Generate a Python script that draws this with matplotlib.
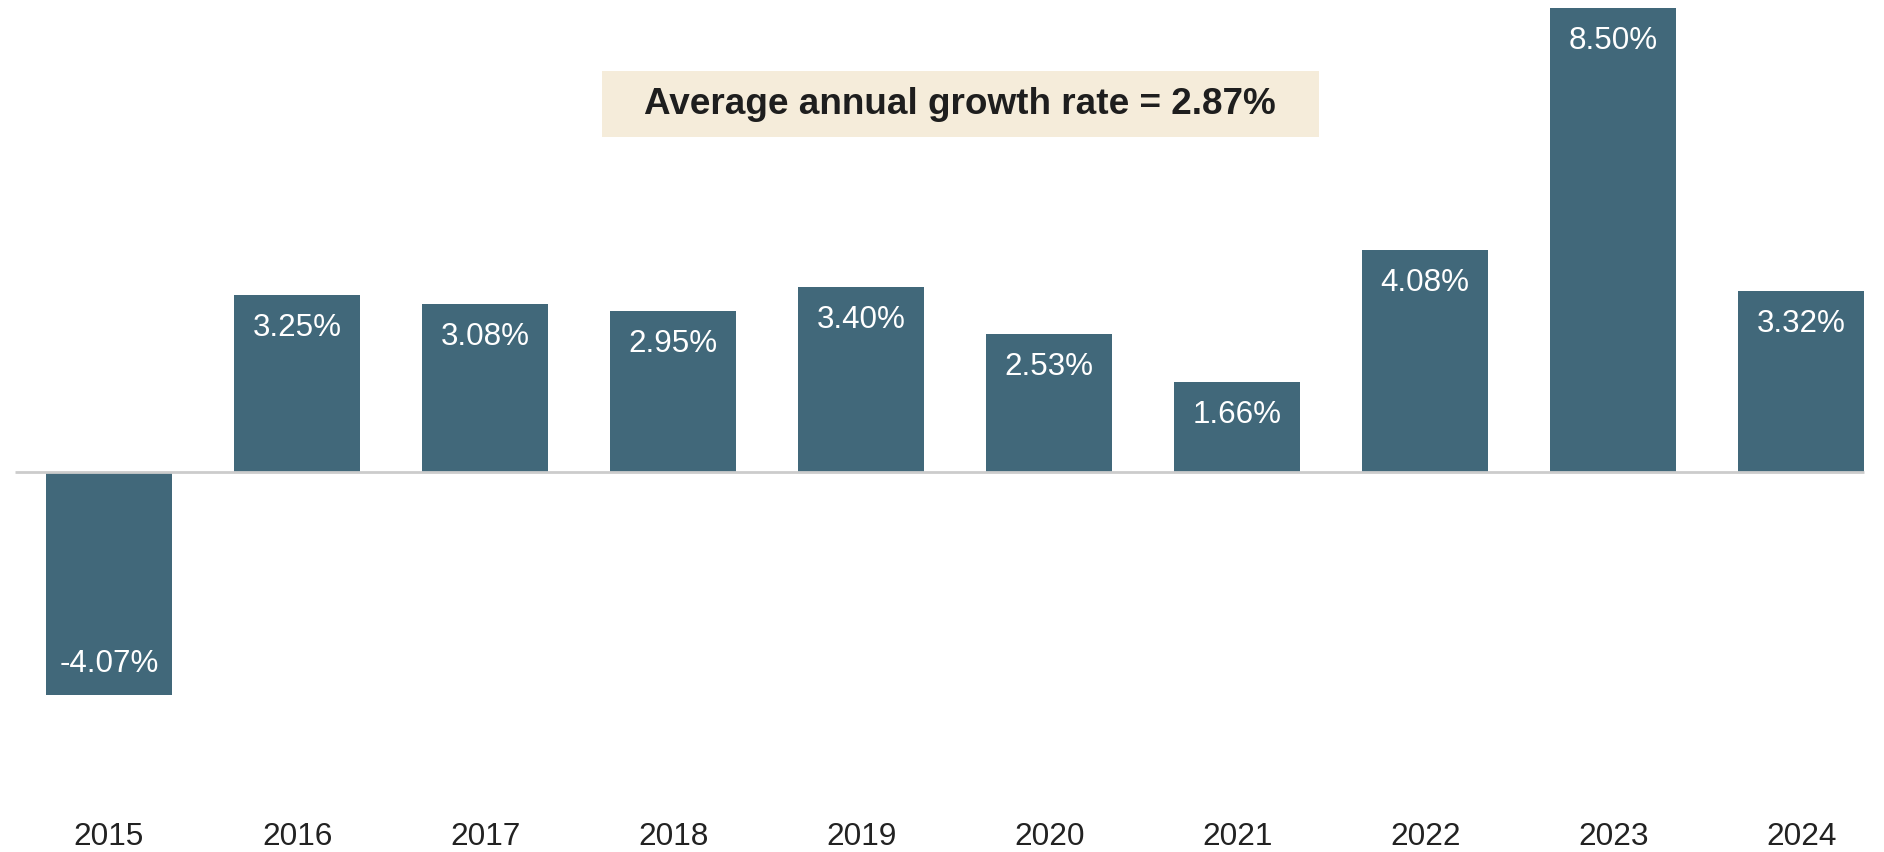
import matplotlib.pyplot as plt
from matplotlib.patches import Rectangle

years = ["2015", "2016", "2017", "2018", "2019", "2020", "2021", "2022", "2023", "2024"]
growth = [-4.07, 3.25, 3.08, 2.95, 3.40, 2.53, 1.66, 4.08, 8.50, 3.32]
avg_growth = 2.87

bar_color = "#41687a"
bar_width = 0.67

plt.rcParams['font.family'] = ['Liberation Sans', 'DejaVu Sans']

fig = plt.figure(figsize=(18.84, 8.53), dpi=100)
ax = fig.add_axes([0, 0, 1, 1])
ax.set_xlim(-0.58, 9.44)
ax.set_ylim(-6.95, 8.67)
ax.axis('off')

x = list(range(len(years)))
ax.bar(x, growth, width=bar_width, color=bar_color, zorder=2)
ax.hlines(0, -0.5, len(years) - 1 + bar_width / 2, color='#cccccc', linewidth=2, zorder=3)

# value labels sit inside the bar ends
for i, v in zip(x, growth):
    off = -23 if v >= 0 else 23
    ax.annotate(f"{v:.2f}%", xy=(i, v), xytext=(0, off), textcoords='offset points',
                ha='center', va='center', color='white', fontsize=22.6, zorder=4)

for i, yr in zip(x, years):
    ax.text(i, 0.019, yr, transform=ax.get_xaxis_transform(), ha='center', va='center',
            fontsize=22.8, color='#222222')

ax.add_patch(Rectangle((0.3195, 0.838), 0.3806, 0.0774, transform=ax.transAxes,
                       facecolor='#f5ecda', edgecolor='none', zorder=1))
ax.text(0.5096, 0.877, f"Average annual growth rate = {avg_growth:.2f}%", transform=ax.transAxes,
        ha='center', va='center', fontsize=26.6, fontweight='bold', color='#1e1e1e', zorder=5)

fig.savefig("out.png", dpi=100)
